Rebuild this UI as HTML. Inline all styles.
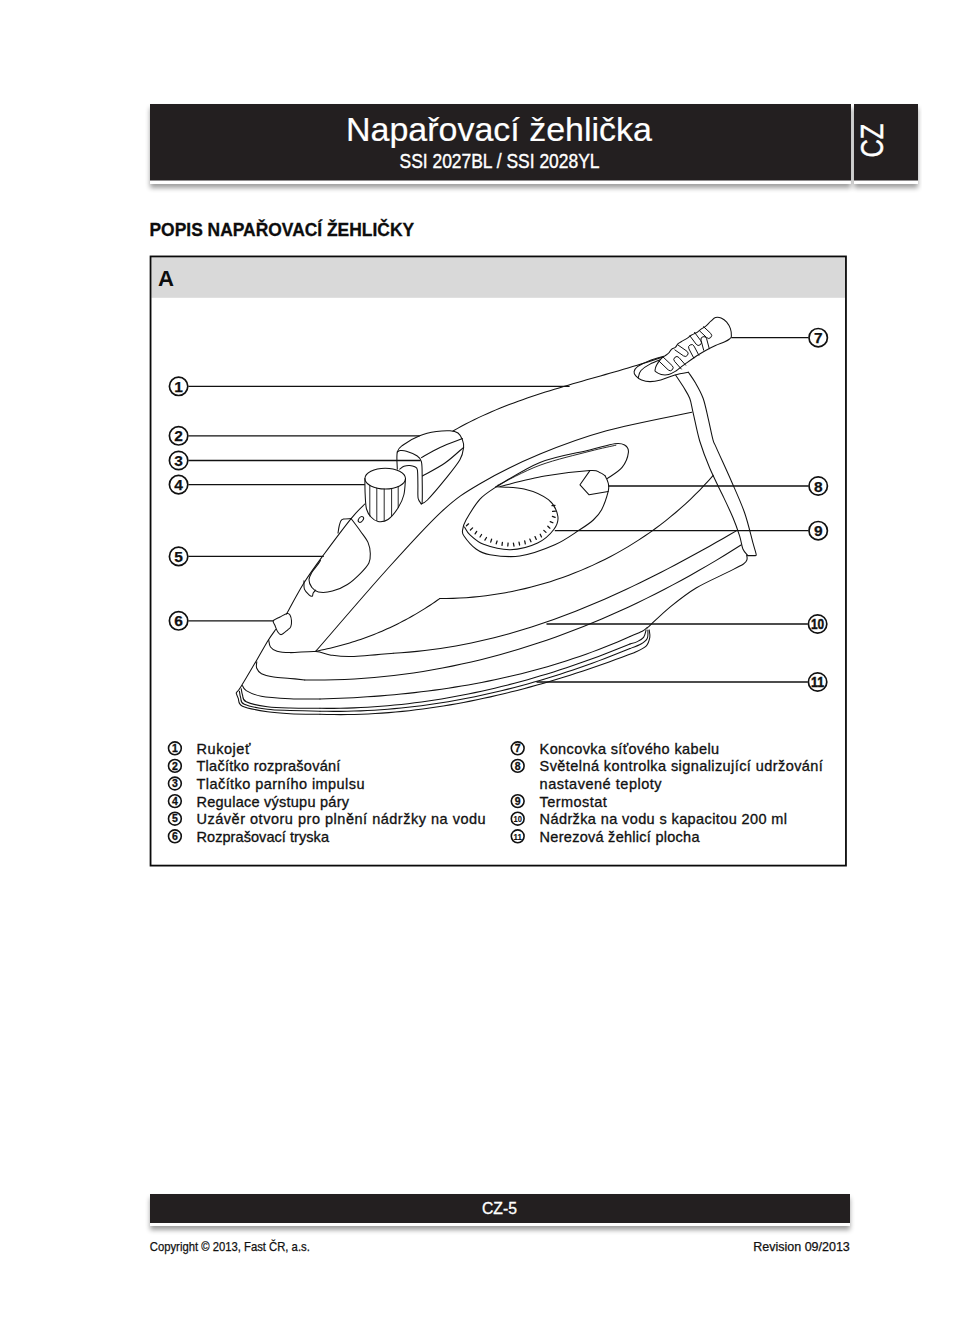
<!DOCTYPE html>
<html><head><meta charset="utf-8"><title>Napařovací žehlička</title>
<style>html,body{margin:0;padding:0;background:#fff;}body{width:962px;height:1328px;position:relative;overflow:hidden;font-family:"Liberation Sans",sans-serif;}</style>
</head><body>
<svg width="962" height="1328" viewBox="0 0 962 1328" style="position:absolute;left:0;top:0;font-family:'Liberation Sans',sans-serif"><defs><filter id="sh" x="-5%" y="-50%" width="110%" height="200%"><feGaussianBlur in="SourceAlpha" stdDeviation="2.7"/><feOffset dx="0" dy="4" result="b"/><feComponentTransfer><feFuncA type="linear" slope="0.38"/></feComponentTransfer><feMerge><feMergeNode/><feMergeNode in="SourceGraphic"/></feMerge></filter></defs>
<rect x="150" y="104" width="701" height="80" fill="#fff" filter="url(#sh)"/>
<rect x="854" y="104" width="64" height="80" fill="#fff" filter="url(#sh)"/>
<rect x="150" y="104" width="701" height="76.5" fill="#231f20"/>
<rect x="854" y="104" width="64" height="76.5" fill="#231f20"/>
<text id="title" x="346.0" y="141.0" font-size="33.30" font-weight="normal" fill="#fff" textLength="306.0" lengthAdjust="spacingAndGlyphs" stroke="#fff" stroke-width="0.2">Napařovací žehlička</text>
<text id="sub" x="399.5" y="168.0" font-size="19.80" font-weight="normal" fill="#fff" textLength="200.0" lengthAdjust="spacingAndGlyphs" stroke="#fff" stroke-width="0.4">SSI 2027BL / SSI 2028YL</text>
<text id="czt" transform="translate(883.0,157.6) rotate(-90)" x="0" y="0" font-size="31.5" fill="#fff" stroke="#fff" stroke-width="0.4" textLength="34" lengthAdjust="spacingAndGlyphs">CZ</text>
<text id="popis" x="149.5" y="236.0" font-size="18.80" font-weight="bold" fill="#0d0d0d" textLength="264.6" lengthAdjust="spacingAndGlyphs" stroke="#0d0d0d" stroke-width="0.3">POPIS NAPAŘOVACÍ ŽEHLIČKY</text>
<rect x="151.4" y="257.3" width="693.7" height="40.5" fill="#d9d9d9"/>
<rect x="150.55" y="256.45" width="695.4" height="609.15" fill="none" stroke="#0a0a0a" stroke-width="1.8"/>
<text id="A" x="158.0" y="285.6" font-size="21.80" font-weight="bold" fill="#0d0d0d" textLength="16.0" lengthAdjust="spacingAndGlyphs" >A</text>
<circle cx="174.9" cy="748.3" r="6.4" fill="none" stroke="#111" stroke-width="1.6"/>
<text x="174.9" y="752.0" font-size="10.5" font-weight="bold" text-anchor="middle" fill="#111" stroke="#111" stroke-width="0.3">1</text>
<text class="li" x="196.5" y="753.8" font-size="14.5" fill="#111" stroke="#111" stroke-width="0.32" textLength="53.9" lengthAdjust="spacing">Rukojeť</text>
<circle cx="174.9" cy="765.9" r="6.4" fill="none" stroke="#111" stroke-width="1.6"/>
<text x="174.9" y="769.6" font-size="10.5" font-weight="bold" text-anchor="middle" fill="#111" stroke="#111" stroke-width="0.3">2</text>
<text class="li" x="196.5" y="771.4" font-size="14.5" fill="#111" stroke="#111" stroke-width="0.32" textLength="143.9" lengthAdjust="spacing">Tlačítko rozprašování</text>
<circle cx="174.9" cy="783.5" r="6.4" fill="none" stroke="#111" stroke-width="1.6"/>
<text x="174.9" y="787.2" font-size="10.5" font-weight="bold" text-anchor="middle" fill="#111" stroke="#111" stroke-width="0.3">3</text>
<text class="li" x="196.5" y="789.0" font-size="14.5" fill="#111" stroke="#111" stroke-width="0.32" textLength="168.0" lengthAdjust="spacing">Tlačítko parního impulsu</text>
<circle cx="174.9" cy="801.1" r="6.4" fill="none" stroke="#111" stroke-width="1.6"/>
<text x="174.9" y="804.8" font-size="10.5" font-weight="bold" text-anchor="middle" fill="#111" stroke="#111" stroke-width="0.3">4</text>
<text class="li" x="196.5" y="806.6" font-size="14.5" fill="#111" stroke="#111" stroke-width="0.32" textLength="152.5" lengthAdjust="spacing">Regulace výstupu páry</text>
<circle cx="174.9" cy="818.7" r="6.4" fill="none" stroke="#111" stroke-width="1.6"/>
<text x="174.9" y="822.4" font-size="10.5" font-weight="bold" text-anchor="middle" fill="#111" stroke="#111" stroke-width="0.3">5</text>
<text class="li" x="196.5" y="824.2" font-size="14.5" fill="#111" stroke="#111" stroke-width="0.32" textLength="289.2" lengthAdjust="spacing">Uzávěr otvoru pro plnění nádržky na vodu</text>
<circle cx="174.9" cy="836.3" r="6.4" fill="none" stroke="#111" stroke-width="1.6"/>
<text x="174.9" y="840.0" font-size="10.5" font-weight="bold" text-anchor="middle" fill="#111" stroke="#111" stroke-width="0.3">6</text>
<text class="li" x="196.5" y="841.8" font-size="14.5" fill="#111" stroke="#111" stroke-width="0.32" textLength="132.5" lengthAdjust="spacing">Rozprašovací tryska</text>
<circle cx="517.7" cy="748.3" r="6.4" fill="none" stroke="#111" stroke-width="1.6"/>
<text x="517.7" y="752.0" font-size="10.5" font-weight="bold" text-anchor="middle" fill="#111" stroke="#111" stroke-width="0.3">7</text>
<text class="li" x="539.6" y="753.8" font-size="14.5" fill="#111" stroke="#111" stroke-width="0.32" textLength="179.5" lengthAdjust="spacing">Koncovka síťového kabelu</text>
<circle cx="517.7" cy="765.9" r="6.4" fill="none" stroke="#111" stroke-width="1.6"/>
<text x="517.7" y="769.6" font-size="10.5" font-weight="bold" text-anchor="middle" fill="#111" stroke="#111" stroke-width="0.3">8</text>
<text class="li" x="539.6" y="771.4" font-size="14.5" fill="#111" stroke="#111" stroke-width="0.32" textLength="283.2" lengthAdjust="spacing">Světelná kontrolka signalizující udržování</text>
<text class="li" x="539.6" y="789.0" font-size="14.5" fill="#111" stroke="#111" stroke-width="0.32" textLength="122.0" lengthAdjust="spacing">nastavené teploty</text>
<circle cx="517.7" cy="801.1" r="6.4" fill="none" stroke="#111" stroke-width="1.6"/>
<text x="517.7" y="804.8" font-size="10.5" font-weight="bold" text-anchor="middle" fill="#111" stroke="#111" stroke-width="0.3">9</text>
<text class="li" x="539.6" y="806.6" font-size="14.5" fill="#111" stroke="#111" stroke-width="0.32" textLength="67.1" lengthAdjust="spacing">Termostat</text>
<circle cx="517.7" cy="818.7" r="6.4" fill="none" stroke="#111" stroke-width="1.6"/>
<text x="517.7" y="822.2" font-size="9.5" font-weight="bold" text-anchor="middle" fill="#111" stroke="#111" stroke-width="0.15" textLength="8.4" lengthAdjust="spacingAndGlyphs">10</text>
<text class="li" x="539.6" y="824.2" font-size="14.5" fill="#111" stroke="#111" stroke-width="0.32" textLength="247.4" lengthAdjust="spacing">Nádržka na vodu s kapacitou 200 ml</text>
<circle cx="517.7" cy="836.3" r="6.4" fill="none" stroke="#111" stroke-width="1.6"/>
<text x="517.7" y="839.8" font-size="9.5" font-weight="bold" text-anchor="middle" fill="#111" stroke="#111" stroke-width="0.15" textLength="8.4" lengthAdjust="spacingAndGlyphs">11</text>
<text class="li" x="539.6" y="841.8" font-size="14.5" fill="#111" stroke="#111" stroke-width="0.32" textLength="159.9" lengthAdjust="spacing">Nerezová žehlicí plocha</text>
<rect x="150" y="1194" width="700" height="32" fill="#fff" filter="url(#sh)"/>
<rect x="150" y="1194" width="700" height="29" fill="#231f20"/>
<text id="cz5" x="482.0" y="1214.0" font-size="17.00" font-weight="normal" fill="#fff" textLength="35.0" lengthAdjust="spacingAndGlyphs" stroke="#fff" stroke-width="0.35">CZ-5</text>
<text id="copy" x="149.8" y="1250.9" font-size="12.20" font-weight="normal" fill="#111" textLength="160.0" lengthAdjust="spacingAndGlyphs" stroke="#111" stroke-width="0.25">Copyright © 2013, Fast ČR, a.s.</text>
<text id="rev" x="753.3" y="1250.7" font-size="12.20" font-weight="normal" fill="#111" textLength="96.5" lengthAdjust="spacingAndGlyphs" stroke="#111" stroke-width="0.25">Revision 09/2013</text>
<path d="M453.00,431.00 L457.19,428.61 L461.40,426.29 L465.64,424.04 L469.90,421.85 L474.19,419.71 L478.50,417.64 L482.83,415.63 L487.19,413.66 L491.56,411.75 L495.95,409.89 L500.37,408.08 L504.80,406.31 L509.24,404.59 L513.71,402.90 L518.19,401.26 L522.68,399.65 L527.19,398.08 L531.71,396.54 L536.24,395.04 L540.78,393.56 L545.33,392.10 L549.90,390.67 L554.47,389.27 L559.05,387.88 L563.63,386.51 L568.22,385.15 L572.82,383.81 L577.42,382.48 L582.02,381.16 L586.63,379.85 L591.24,378.54 L595.85,377.23 L600.45,375.93 L605.06,374.62 L609.67,373.31 L614.27,371.99 L618.87,370.67 L623.47,369.33 L628.06,367.98 L632.64,366.62 L637.22,365.24 L641.79,363.84 L646.35,362.43 L650.91,360.98 L655.45,359.52 L659.98,358.02 L664.50,356.50" fill="none" stroke="#111" stroke-width="1.05" stroke-linejoin="round" stroke-linecap="round"/>
<path d="M397.3,469.1 C397.3,466.2 396.3,456.0 397.3,452.0 C398.3,448.0 399.4,447.7 403.1,445.0 C406.8,442.3 414.1,438.0 419.7,435.8 C425.2,433.6 431.3,432.4 436.4,431.6 C441.4,430.8 446.4,430.6 450.0,430.8 C453.6,431.0 455.9,431.5 458.0,433.0 C460.1,434.5 461.5,437.4 462.4,439.8 C463.3,442.2 464.0,444.0 463.6,447.3 C463.2,450.6 463.0,454.4 459.9,459.8 C456.8,465.2 450.3,473.0 444.9,479.7 C439.5,486.4 431.3,496.0 427.4,500.0 C423.4,504.0 422.2,503.1 421.2,503.7" fill="none" stroke="#111" stroke-width="1.05" stroke-linejoin="round" stroke-linecap="round"/>
<path d="M397.3,452.0 C397.8,451.8 399.0,450.7 400.5,450.6 C402.0,450.5 403.8,450.4 406.4,451.2 C409.0,452.0 413.9,453.8 416.4,455.5 C418.9,457.2 420.4,457.5 421.4,461.6 C422.4,465.7 422.1,473.4 422.2,480.0 C422.3,486.6 422.4,497.6 422.2,501.5 C422.0,505.4 421.4,503.3 421.2,503.7" fill="none" stroke="#111" stroke-width="1.05" stroke-linejoin="round" stroke-linecap="round"/>
<path d="M421.4,457.6 C424.5,455.9 433.2,450.7 440.0,447.5 C446.8,444.3 458.7,440.1 462.4,438.6" fill="none" stroke="#111" stroke-width="1.05" stroke-linejoin="round" stroke-linecap="round"/>
<path d="M422.4,476.0 C426.2,473.8 438.1,467.8 445.0,463.0 C451.9,458.2 460.5,449.9 463.6,447.3" fill="none" stroke="#111" stroke-width="1.05" stroke-linejoin="round" stroke-linecap="round"/>
<path d="M399.8,469.1 C400.5,468.6 402.4,466.9 404.0,466.3 C405.6,465.7 407.9,465.4 409.7,465.5 C411.5,465.6 413.5,466.1 414.8,466.8 C416.1,467.6 416.9,467.0 417.4,470.0 C417.9,473.0 417.8,480.3 417.9,485.0 C418.0,489.7 417.6,495.1 418.1,498.2 C418.7,501.3 420.7,502.8 421.2,503.7" fill="none" stroke="#111" stroke-width="1.05" stroke-linejoin="round" stroke-linecap="round"/>
<path d="M364.9,478.6 A20.3,10.4 0 1 1 405.5,478.6 A20.3,10.4 0 1 1 364.9,478.6 Z" fill="none" stroke="#111" stroke-width="1.05" stroke-linejoin="round" stroke-linecap="round"/>
<path d="M364.9,478.6 C364.9,481.3 364.9,489.9 365.2,495.0 C365.5,500.1 365.5,505.3 366.5,509.0 C367.5,512.7 369.1,514.9 371.0,517.0 C372.9,519.1 375.2,521.1 378.0,521.5 C380.8,521.9 384.7,521.8 388.0,519.5 C391.3,517.2 395.4,512.1 398.0,508.0 C400.6,503.9 402.6,499.9 403.8,495.0 C405.1,490.1 405.2,481.3 405.5,478.6" fill="none" stroke="#111" stroke-width="1.05" stroke-linejoin="round" stroke-linecap="round"/>
<path d="M369.8,485.4 L369.8,516.0" fill="none" stroke="#111" stroke-width="0.90" stroke-linejoin="round" stroke-linecap="round"/>
<path d="M376.8,488.1 L376.8,520.6" fill="none" stroke="#111" stroke-width="0.90" stroke-linejoin="round" stroke-linecap="round"/>
<path d="M384.2,489.0 L384.2,520.4" fill="none" stroke="#111" stroke-width="0.90" stroke-linejoin="round" stroke-linecap="round"/>
<path d="M391.6,488.5 L391.6,516.2" fill="none" stroke="#111" stroke-width="0.90" stroke-linejoin="round" stroke-linecap="round"/>
<path d="M398.2,486.6 L398.2,507.5" fill="none" stroke="#111" stroke-width="0.90" stroke-linejoin="round" stroke-linecap="round"/>
<path d="M315.8,651.2 C327.6,637.7 365.5,593.3 386.5,570.0 C407.5,546.7 426.0,526.0 441.6,511.6 C457.2,497.2 463.6,493.3 480.0,483.7 C496.4,474.1 518.9,462.9 540.0,454.1 C561.1,445.3 581.2,437.8 606.5,430.8 C631.8,423.8 677.6,415.3 691.8,412.2" fill="none" stroke="#111" stroke-width="1.05" stroke-linejoin="round" stroke-linecap="round"/>
<path d="M364.8,504.0 C362.5,506.4 358.1,510.0 351.1,518.6 C344.2,527.2 331.0,544.8 323.1,555.5 C315.2,566.2 310.0,573.2 303.9,583.0 C297.8,592.8 289.4,608.8 286.5,614.0" fill="none" stroke="#111" stroke-width="1.05" stroke-linejoin="round" stroke-linecap="round"/>
<path d="M275.7,629.5 C274.5,631.2 271.4,635.1 268.4,640.0 C265.3,644.9 261.9,651.2 257.4,658.9 C252.9,666.6 244.7,680.6 241.2,686.2 C237.7,691.8 237.3,691.5 236.5,692.5" fill="none" stroke="#111" stroke-width="1.05" stroke-linejoin="round" stroke-linecap="round"/>
<path d="M351.1,518.6 C352.7,520.7 357.7,527.2 360.5,531.2 C363.3,535.2 366.4,538.7 368.0,542.4 C369.6,546.1 370.2,550.2 370.3,553.6 C370.4,557.0 370.5,559.7 368.9,563.0 C367.3,566.3 364.1,569.7 360.5,573.3 C356.9,576.9 352.1,581.5 347.4,584.5 C342.7,587.5 337.2,589.9 332.4,591.1 C327.6,592.4 321.8,592.6 318.4,592.0 C315.0,591.4 313.4,589.3 311.8,587.3 C310.2,585.3 309.0,582.3 309.0,579.8 C309.0,577.3 310.4,574.9 311.8,572.4 C313.2,569.9 316.1,566.9 317.5,564.9 C318.9,562.9 320.0,561.2 320.5,560.5" fill="none" stroke="#111" stroke-width="1.05" stroke-linejoin="round" stroke-linecap="round"/>
<path d="M338.0,533.1 C338.2,531.9 338.7,528.0 339.2,526.0 C339.7,524.0 340.1,522.1 340.8,520.9 C341.5,519.7 341.9,519.4 343.6,519.0 C345.3,518.6 349.9,518.7 351.1,518.6" fill="none" stroke="#111" stroke-width="1.05" stroke-linejoin="round" stroke-linecap="round"/>
<path d="M304.0,580.8 C304.1,582.2 303.6,586.9 304.4,589.2 C305.2,591.5 307.7,593.6 309.0,594.8 C310.3,596.0 311.6,596.5 312.3,596.2 C313.0,595.9 312.6,593.9 313.2,592.9 C313.8,591.9 315.2,590.6 315.6,590.1" fill="none" stroke="#111" stroke-width="1.05" stroke-linejoin="round" stroke-linecap="round"/>
<ellipse cx="360.9" cy="519.4" rx="2.1" ry="3.3" transform="rotate(40 360.9 519.4)" fill="none" stroke="#111" stroke-width="1.0"/>
<path d="M273.3,620.8 C274.1,619.4 277.7,618.2 280.0,617.0 C282.3,615.8 285.4,613.8 287.1,613.5 C288.8,613.2 289.3,613.8 290.0,615.0 C290.7,616.2 291.4,618.9 291.5,620.8 C291.6,622.7 291.4,625.1 290.8,626.6 C290.2,628.1 289.4,628.5 287.8,629.8 C286.2,631.1 283.0,634.3 281.3,634.6 C279.6,634.9 278.8,633.2 277.7,631.7 C276.6,630.2 275.7,627.3 275.0,625.5 C274.3,623.7 272.5,622.2 273.3,620.8Z" fill="none" stroke="#111" stroke-width="1.05" stroke-linejoin="round" stroke-linecap="round"/>
<path d="M315.80,651.20 L318.68,650.65 L321.54,650.07 L324.40,649.47 L327.24,648.85 L330.08,648.20 L332.90,647.53 L335.72,646.83 L338.52,646.10 L341.32,645.35 L344.10,644.58 L346.87,643.78 L349.63,642.96 L352.38,642.11 L355.12,641.24 L357.85,640.34 L360.57,639.42 L363.28,638.48 L365.98,637.51 L368.67,636.51 L371.35,635.49 L374.02,634.44 L376.67,633.37 L379.32,632.28 L381.96,631.16 L384.58,630.02 L387.20,628.85 L389.80,627.66 L392.40,626.44 L394.98,625.19 L397.55,623.93 L400.12,622.63 L402.67,621.32 L405.21,619.98 L407.74,618.61 L410.26,617.22 L412.77,615.80 L415.27,614.36 L417.76,612.90 L420.24,611.41 L422.71,609.89 L425.17,608.35 L427.62,606.79 L430.06,605.20 L432.48,603.59 L434.90,601.95 L437.30,600.29 L439.70,598.60" fill="none" stroke="#111" stroke-width="1.05" stroke-linejoin="round" stroke-linecap="round"/>
<path d="M439.70,598.60 L446.35,598.55 L453.00,598.37 L459.63,598.08 L466.25,597.66 L472.85,597.13 L479.44,596.47 L486.00,595.70 L492.55,594.81 L499.07,593.81 L505.57,592.68 L512.04,591.45 L518.48,590.09 L524.90,588.63 L531.28,587.05 L537.63,585.35 L543.95,583.54 L550.22,581.63 L556.47,579.60 L562.67,577.46 L568.83,575.21 L574.94,572.85 L581.01,570.38 L587.04,567.81 L593.01,565.13 L598.94,562.34 L604.82,559.45 L610.64,556.45 L616.40,553.34 L622.11,550.14 L627.76,546.83 L633.35,543.41 L638.88,539.90 L644.35,536.28 L649.74,532.57 L655.08,528.75 L660.34,524.83 L665.53,520.82 L670.65,516.71 L675.70,512.50 L680.67,508.19 L685.56,503.79 L690.38,499.29 L695.11,494.70 L699.76,490.01 L704.33,485.23 L708.81,480.36 L713.20,475.40" fill="none" stroke="#111" stroke-width="1.05" stroke-linejoin="round" stroke-linecap="round"/>
<path d="M268.7,640.0 C269.0,641.2 269.1,645.1 270.5,647.0 C271.9,648.9 273.8,650.4 277.0,651.3 C280.2,652.2 283.5,652.5 290.0,652.6 C296.5,652.7 309.1,651.2 315.8,651.6 C322.5,652.0 324.0,654.2 330.0,655.0 C336.0,655.8 341.1,656.8 351.6,656.5 C362.1,656.2 386.3,653.8 393.2,653.2" fill="none" stroke="#111" stroke-width="1.05" stroke-linejoin="round" stroke-linecap="round"/>
<path d="M393.20,653.20 L401.15,652.72 L409.06,652.12 L416.94,651.39 L424.79,650.53 L432.61,649.56 L440.40,648.47 L448.16,647.26 L455.88,645.93 L463.58,644.50 L471.25,642.96 L478.89,641.31 L486.50,639.55 L494.08,637.70 L501.63,635.74 L509.15,633.69 L516.65,631.54 L524.11,629.30 L531.55,626.96 L538.97,624.54 L546.35,622.04 L553.71,619.45 L561.04,616.78 L568.35,614.03 L575.63,611.21 L582.89,608.31 L590.12,605.34 L597.33,602.30 L604.51,599.19 L611.66,596.02 L618.80,592.79 L625.91,589.50 L632.99,586.15 L640.06,582.74 L647.10,579.29 L654.12,575.78 L661.11,572.22 L668.09,568.62 L675.04,564.97 L681.97,561.29 L688.89,557.56 L695.78,553.80 L702.65,550.00 L709.50,546.18 L716.33,542.32 L723.14,538.44 L729.93,534.53 L736.70,530.60" fill="none" stroke="#111" stroke-width="1.05" stroke-linejoin="round" stroke-linecap="round"/>
<path d="M256.8,661.8 C256.8,662.8 255.8,666.0 256.6,668.0 C257.4,670.0 258.6,672.2 261.5,673.7 C264.4,675.2 268.9,676.1 273.7,676.9 C278.4,677.7 284.8,677.9 290.0,678.4 C295.2,678.9 302.3,679.6 304.8,679.9" fill="none" stroke="#111" stroke-width="1.05" stroke-linejoin="round" stroke-linecap="round"/>
<path d="M304.80,679.90 L314.78,680.01 L324.74,679.98 L334.68,679.78 L344.60,679.44 L354.50,678.95 L364.37,678.30 L374.22,677.52 L384.04,676.58 L393.84,675.51 L403.61,674.29 L413.36,672.93 L423.08,671.43 L432.77,669.80 L442.43,668.03 L452.06,666.13 L461.67,664.09 L471.24,661.93 L480.78,659.64 L490.29,657.22 L499.77,654.68 L509.21,652.01 L518.62,649.23 L528.00,646.32 L537.34,643.29 L546.65,640.15 L555.92,636.90 L565.15,633.53 L574.34,630.05 L583.50,626.46 L592.61,622.76 L601.69,618.95 L610.73,615.04 L619.72,611.03 L628.68,606.92 L637.59,602.71 L646.46,598.39 L655.29,593.99 L664.07,589.49 L672.80,584.89 L681.49,580.21 L690.14,575.43 L698.74,570.57 L707.29,565.62 L715.79,560.59 L724.24,555.47 L732.64,550.27 L741.00,545.00" fill="none" stroke="#111" stroke-width="1.05" stroke-linejoin="round" stroke-linecap="round"/>
<path d="M647.3,628.0 C647.8,627.5 646.6,628.4 650.6,624.8 C654.6,621.1 663.6,612.2 671.2,606.1 C678.8,600.0 686.8,593.6 696.1,588.0 C705.5,582.4 719.4,576.4 727.3,572.4 C735.2,568.4 740.2,566.1 743.5,564.0 C746.8,561.9 746.5,561.0 747.0,559.5 C747.5,558.0 746.7,555.7 746.6,554.9" fill="none" stroke="#111" stroke-width="1.05" stroke-linejoin="round" stroke-linecap="round"/>
<path d="M242.5,685.6 C243.1,686.4 243.1,688.8 246.2,690.6 C249.3,692.4 253.9,694.9 261.2,696.2 C268.5,697.6 280.2,698.2 290.0,698.7 C299.8,699.2 315.0,699.0 320.0,699.0" fill="none" stroke="#111" stroke-width="1.05" stroke-linejoin="round" stroke-linecap="round"/>
<path d="M320.00,699.00 L326.75,698.81 L333.50,698.58 L340.25,698.32 L347.00,698.01 L353.76,697.66 L360.52,697.28 L367.28,696.85 L374.03,696.38 L380.79,695.87 L387.55,695.31 L394.30,694.71 L401.05,694.06 L407.79,693.36 L414.54,692.62 L421.27,691.83 L428.00,691.00 L434.73,690.11 L441.44,689.17 L448.15,688.18 L454.85,687.14 L461.55,686.05 L468.23,684.90 L474.90,683.70 L481.56,682.44 L488.20,681.13 L494.84,679.76 L501.46,678.33 L508.07,676.85 L514.66,675.30 L521.24,673.70 L527.80,672.03 L534.34,670.31 L540.87,668.52 L547.37,666.67 L553.86,664.75 L560.33,662.77 L566.78,660.73 L573.21,658.61 L579.61,656.44 L586.00,654.19 L592.36,651.87 L598.70,649.49 L605.01,647.04 L611.30,644.51 L617.56,641.91 L623.79,639.24 L630.00,636.50" fill="none" stroke="#111" stroke-width="1.05" stroke-linejoin="round" stroke-linecap="round"/>
<path d="M630.0,636.5 C632.0,635.6 639.4,632.7 642.3,631.2 C645.2,629.7 646.5,628.0 647.3,627.4" fill="none" stroke="#111" stroke-width="1.05" stroke-linejoin="round" stroke-linecap="round"/>
<path d="M241.2,688.7 C241.4,689.8 241.7,692.8 242.5,695.0 C243.3,697.2 242.0,699.8 246.2,701.8 C250.3,703.8 260.1,705.8 267.4,706.8 C274.7,707.8 281.2,707.9 290.0,708.1 C298.8,708.4 315.0,708.3 320.0,708.3" fill="none" stroke="#111" stroke-width="1.05" stroke-linejoin="round" stroke-linecap="round"/>
<path d="M320.00,708.30 L326.80,708.36 L333.59,708.35 L340.38,708.26 L347.17,708.11 L353.95,707.88 L360.73,707.59 L367.50,707.23 L374.27,706.80 L381.03,706.30 L387.79,705.73 L394.54,705.10 L401.28,704.41 L408.02,703.65 L414.74,702.82 L421.46,701.93 L428.17,700.98 L434.88,699.97 L441.57,698.90 L448.25,697.76 L454.93,696.57 L461.59,695.31 L468.24,694.00 L474.89,692.63 L481.52,691.20 L488.14,689.71 L494.74,688.17 L501.34,686.57 L507.92,684.92 L514.48,683.22 L521.04,681.46 L527.58,679.64 L534.10,677.78 L540.61,675.86 L547.11,673.90 L553.59,671.88 L560.05,669.81 L566.50,667.70 L572.93,665.53 L579.35,663.32 L585.74,661.06 L592.12,658.76 L598.48,656.41 L604.82,654.01 L611.15,651.58 L617.45,649.09 L623.74,646.57 L630.00,644.00" fill="none" stroke="#111" stroke-width="1.05" stroke-linejoin="round" stroke-linecap="round"/>
<path d="M630.0,644.0 C631.2,643.6 635.0,642.7 637.3,641.6 C639.6,640.5 642.1,639.4 643.6,637.4 C645.1,635.4 645.7,631.1 646.1,629.9" fill="none" stroke="#111" stroke-width="1.05" stroke-linejoin="round" stroke-linecap="round"/>
<path d="M239.4,691.2 C239.6,692.2 239.8,695.2 240.6,697.4 C241.4,699.6 239.8,702.3 244.3,704.3 C248.8,706.3 259.8,708.3 267.4,709.3 C275.0,710.3 281.2,710.2 290.0,710.5 C298.8,710.8 315.0,711.1 320.0,711.2" fill="none" stroke="#111" stroke-width="1.05" stroke-linejoin="round" stroke-linecap="round"/>
<path d="M320.00,711.20 L326.78,711.33 L333.56,711.38 L340.34,711.35 L347.11,711.26 L353.89,711.10 L360.66,710.86 L367.42,710.55 L374.19,710.18 L380.94,709.74 L387.70,709.22 L394.45,708.64 L401.19,708.00 L407.93,707.29 L414.66,706.51 L421.38,705.67 L428.10,704.76 L434.80,703.79 L441.50,702.76 L448.19,701.66 L454.87,700.51 L461.54,699.29 L468.20,698.01 L474.85,696.68 L481.49,695.28 L488.12,693.83 L494.73,692.32 L501.33,690.75 L507.92,689.13 L514.50,687.45 L521.06,685.72 L527.61,683.93 L534.14,682.09 L540.65,680.19 L547.15,678.25 L553.64,676.25 L560.10,674.20 L566.55,672.10 L572.99,669.95 L579.40,667.76 L585.80,665.51 L592.17,663.22 L598.53,660.88 L604.86,658.49 L611.18,656.06 L617.47,653.58 L623.75,651.06 L630.00,648.50" fill="none" stroke="#111" stroke-width="1.05" stroke-linejoin="round" stroke-linecap="round"/>
<path d="M630.0,648.5 C631.8,647.8 638.1,645.7 641.0,644.0 C643.9,642.3 646.1,640.8 647.2,638.5 C648.4,636.2 647.8,631.4 647.9,630.0" fill="none" stroke="#111" stroke-width="1.05" stroke-linejoin="round" stroke-linecap="round"/>
<path d="M236.2,693.1 C236.5,693.9 237.0,695.9 238.1,698.1 C239.2,700.3 237.6,703.9 242.5,706.2 C247.4,708.5 259.5,710.5 267.4,711.8 C275.3,713.0 281.2,713.3 290.0,713.7 C298.8,714.1 315.0,714.2 320.0,714.3" fill="none" stroke="#111" stroke-width="1.05" stroke-linejoin="round" stroke-linecap="round"/>
<path d="M320.00,714.30 L326.90,714.49 L333.79,714.60 L340.68,714.62 L347.57,714.57 L354.45,714.43 L361.32,714.22 L368.19,713.93 L375.05,713.57 L381.90,713.13 L388.75,712.62 L395.58,712.03 L402.42,711.37 L409.24,710.65 L416.06,709.85 L422.86,708.99 L429.66,708.06 L436.45,707.06 L443.24,706.00 L450.01,704.88 L456.77,703.69 L463.52,702.45 L470.27,701.14 L477.00,699.78 L483.72,698.35 L490.43,696.87 L497.13,695.34 L503.82,693.75 L510.50,692.11 L517.16,690.42 L523.81,688.67 L530.45,686.88 L537.08,685.04 L543.70,683.15 L550.30,681.22 L556.89,679.24 L563.46,677.21 L570.02,675.15 L576.57,673.04 L583.10,670.89 L589.62,668.71 L596.12,666.48 L602.60,664.22 L609.08,661.92 L615.53,659.59 L621.97,657.23 L628.39,654.83 L634.80,652.40" fill="none" stroke="#111" stroke-width="1.05" stroke-linejoin="round" stroke-linecap="round"/>
<path d="M634.8,652.4 C636.7,651.4 643.6,648.6 646.1,646.1 C648.6,643.6 649.3,640.1 649.8,637.4 C650.3,634.7 649.3,631.1 649.2,629.9" fill="none" stroke="#111" stroke-width="1.05" stroke-linejoin="round" stroke-linecap="round"/>
<path d="M675.7,375.2 C677.0,377.1 680.9,382.8 683.2,386.6 C685.5,390.5 688.0,393.9 689.7,398.3 C691.4,402.7 691.5,406.0 693.2,413.1 C694.9,420.2 697.0,431.9 699.7,441.0 C702.5,450.1 705.8,458.8 709.7,468.0 C713.6,477.2 719.1,487.8 723.0,496.0 C726.9,504.2 730.1,510.9 732.9,517.5 C735.7,524.1 737.9,530.5 739.6,535.8 C741.3,541.0 741.5,545.7 742.9,549.0 C744.3,552.3 747.0,554.5 747.8,555.6" fill="none" stroke="#111" stroke-width="1.05" stroke-linejoin="round" stroke-linecap="round"/>
<path d="M688.4,372.2 C689.6,374.1 693.2,379.0 695.7,383.3 C698.2,387.6 701.0,392.4 703.1,398.2 C705.2,404.0 706.5,411.2 708.1,418.1 C709.8,425.1 711.6,434.9 713.0,439.9 C714.4,444.9 713.4,441.0 716.4,447.9 C719.4,454.8 726.6,470.2 731.3,481.0 C736.0,491.8 740.9,502.3 744.5,512.5 C748.1,522.7 750.9,535.5 752.8,542.4 C754.7,549.3 755.7,551.8 756.1,554.0 C756.5,556.2 755.4,555.3 755.3,555.6" fill="none" stroke="#111" stroke-width="1.05" stroke-linejoin="round" stroke-linecap="round"/>
<path d="M747.8,555.6 L755.3,555.6" fill="none" stroke="#111" stroke-width="1.05" stroke-linejoin="round" stroke-linecap="round"/>
<path d="M664.1,356.2 C661.8,356.9 654.4,358.7 650.0,360.4 C645.6,362.1 640.1,364.7 637.5,366.6 C634.9,368.5 634.4,370.1 634.1,371.6 C633.8,373.1 634.5,374.4 635.8,375.8 C637.0,377.2 639.2,378.9 641.6,379.9 C644.0,380.9 646.8,381.6 650.0,381.6 C653.2,381.6 656.6,381.0 660.8,379.9 C664.9,378.8 670.3,376.2 674.9,374.9 C679.5,373.6 686.1,372.6 688.4,372.2" fill="none" stroke="#111" stroke-width="1.05" stroke-linejoin="round" stroke-linecap="round"/>
<path d="M662.4,358.9 C660.3,359.8 653.6,362.2 650.0,364.1 C646.4,366.0 643.0,368.3 641.0,370.5 C639.0,372.7 638.8,376.3 638.3,377.5" fill="none" stroke="#111" stroke-width="1.05" stroke-linejoin="round" stroke-linecap="round"/>
<path d="M496.1,486.9 C503.4,482.8 524.4,468.6 540.0,462.4 C555.6,456.2 577.2,453.0 589.7,449.9 C602.2,446.8 608.9,444.5 614.7,443.7 C620.5,442.9 622.3,443.6 624.6,445.0 C626.9,446.4 628.8,448.7 628.4,452.4 C628.0,456.1 625.6,463.0 622.1,467.4 C618.6,471.8 609.7,476.7 607.2,478.6" fill="none" stroke="#111" stroke-width="1.05" stroke-linejoin="round" stroke-linecap="round"/>
<path d="M497.0,485.6 C504.2,482.2 524.5,470.9 540.0,465.2 C555.5,459.5 577.4,454.5 590.0,451.2 C602.6,447.9 611.6,446.2 615.9,445.2" fill="none" stroke="#111" stroke-width="0.90" stroke-linejoin="round" stroke-linecap="round"/>
<path d="M604.9,475.6 C605.5,476.8 607.7,480.4 608.2,483.0 C608.8,485.6 609.3,486.9 608.2,491.4 C607.1,495.8 604.1,504.9 601.6,509.7 C599.1,514.5 596.9,516.6 593.3,520.0 C589.6,523.4 586.1,525.7 579.7,529.8 C573.3,533.9 564.8,540.4 554.8,544.8 C544.8,549.2 530.6,554.4 519.8,556.0 C509.0,557.6 497.2,555.9 489.9,554.7 C482.6,553.5 480.3,552.1 476.0,549.0 C471.7,545.9 466.2,539.2 464.0,536.0 C461.8,532.8 462.3,532.7 462.6,530.0 C462.9,527.3 463.1,525.1 466.0,520.0 C468.9,514.9 475.0,504.6 480.0,499.1 C485.0,493.6 493.4,488.9 496.1,486.9" fill="none" stroke="#111" stroke-width="1.05" stroke-linejoin="round" stroke-linecap="round"/>
<path d="M500.0,486.4 C507.5,484.7 529.8,478.7 544.8,476.1 C559.8,473.5 580.8,471.2 589.9,470.6 C599.0,470.0 597.2,471.7 599.7,472.5 C602.2,473.3 604.0,475.1 604.9,475.6" fill="none" stroke="#111" stroke-width="1.05" stroke-linejoin="round" stroke-linecap="round"/>
<path d="M589.9,470.6 L580.0,484.8 L589.1,494.8 L608.2,491.4" fill="none" stroke="#111" stroke-width="1.05" stroke-linejoin="round" stroke-linecap="round"/>
<path d="M495.7,486.8 C500.4,487.1 515.3,486.8 524.1,488.9 C532.9,491.0 542.8,495.2 548.4,499.7 C554.0,504.2 556.9,511.0 557.8,516.0 C558.7,521.0 557.2,525.0 553.8,529.5 C550.4,534.0 544.8,539.6 537.6,543.0 C530.4,546.4 519.5,549.5 510.5,549.7 C501.5,549.9 490.2,546.8 483.5,544.3 C476.8,541.8 473.2,537.8 470.0,534.9 C466.8,532.0 465.4,528.3 464.5,527.0" fill="none" stroke="#111" stroke-width="1.05" stroke-linejoin="round" stroke-linecap="round"/>
<path d="M466.4,525.8 L468.6,523.8" fill="none" stroke="#111" stroke-width="1.25" stroke-linejoin="round" stroke-linecap="round"/>
<path d="M470.4,530.0 L472.6,527.9" fill="none" stroke="#111" stroke-width="1.25" stroke-linejoin="round" stroke-linecap="round"/>
<path d="M475.1,533.9 L476.7,531.4" fill="none" stroke="#111" stroke-width="1.25" stroke-linejoin="round" stroke-linecap="round"/>
<path d="M480.0,537.0 L481.6,534.5" fill="none" stroke="#111" stroke-width="1.25" stroke-linejoin="round" stroke-linecap="round"/>
<path d="M484.9,540.1 L486.5,537.5" fill="none" stroke="#111" stroke-width="1.25" stroke-linejoin="round" stroke-linecap="round"/>
<path d="M490.7,542.1 L491.6,539.2" fill="none" stroke="#111" stroke-width="1.25" stroke-linejoin="round" stroke-linecap="round"/>
<path d="M496.2,543.8 L497.1,541.0" fill="none" stroke="#111" stroke-width="1.25" stroke-linejoin="round" stroke-linecap="round"/>
<path d="M502.0,545.3 L502.4,542.3" fill="none" stroke="#111" stroke-width="1.25" stroke-linejoin="round" stroke-linecap="round"/>
<path d="M507.8,546.0 L508.1,543.0" fill="none" stroke="#111" stroke-width="1.25" stroke-linejoin="round" stroke-linecap="round"/>
<path d="M514.0,546.1 L513.4,543.2" fill="none" stroke="#111" stroke-width="1.25" stroke-linejoin="round" stroke-linecap="round"/>
<path d="M519.6,545.0 L519.0,542.1" fill="none" stroke="#111" stroke-width="1.25" stroke-linejoin="round" stroke-linecap="round"/>
<path d="M525.3,543.9 L524.7,540.9" fill="none" stroke="#111" stroke-width="1.25" stroke-linejoin="round" stroke-linecap="round"/>
<path d="M531.0,541.8 L529.8,539.1" fill="none" stroke="#111" stroke-width="1.25" stroke-linejoin="round" stroke-linecap="round"/>
<path d="M536.3,539.4 L535.0,536.6" fill="none" stroke="#111" stroke-width="1.25" stroke-linejoin="round" stroke-linecap="round"/>
<path d="M541.5,536.9 L540.2,534.2" fill="none" stroke="#111" stroke-width="1.25" stroke-linejoin="round" stroke-linecap="round"/>
<path d="M546.0,532.4 L543.8,530.4" fill="none" stroke="#111" stroke-width="1.25" stroke-linejoin="round" stroke-linecap="round"/>
<path d="M549.9,528.2 L547.8,526.2" fill="none" stroke="#111" stroke-width="1.25" stroke-linejoin="round" stroke-linecap="round"/>
<path d="M552.9,522.8 L550.2,521.6" fill="none" stroke="#111" stroke-width="1.25" stroke-linejoin="round" stroke-linecap="round"/>
<path d="M555.1,517.4 L552.4,516.3" fill="none" stroke="#111" stroke-width="1.25" stroke-linejoin="round" stroke-linecap="round"/>
<path d="M555.6,511.1 L552.6,511.4" fill="none" stroke="#111" stroke-width="1.25" stroke-linejoin="round" stroke-linecap="round"/>
<path d="M555.0,505.3 L552.0,505.7" fill="none" stroke="#111" stroke-width="1.25" stroke-linejoin="round" stroke-linecap="round"/>
<path d="M655.1,369.9 C655.2,368.8 655.5,367.1 656.5,365.2 C657.5,363.3 659.8,360.2 661.2,358.6 C662.6,357.0 663.8,356.7 665.0,355.8 C666.2,354.9 667.6,354.1 668.7,353.0 C669.8,351.9 670.4,350.2 671.5,349.3 C672.6,348.4 674.2,348.3 675.3,347.4 C676.4,346.5 676.9,344.8 678.1,343.7 C679.3,342.6 681.2,341.8 682.7,340.9 C684.2,340.0 686.0,339.0 687.4,338.1 C688.8,337.2 689.6,336.2 691.2,335.3 C692.8,334.4 695.2,333.4 696.8,332.5 C698.3,331.6 699.0,330.7 700.5,329.6 C702.0,328.5 704.4,327.3 706.1,325.9 C707.8,324.5 709.2,322.6 710.8,321.2 C712.4,319.8 713.8,318.0 715.5,317.5 C717.2,317.0 719.2,317.2 721.1,318.0 C723.0,318.8 725.2,320.4 726.7,322.2 C728.2,324.0 729.6,326.4 730.4,328.7 C731.2,331.0 731.5,334.5 731.4,336.2 C731.2,337.9 730.6,338.1 729.5,339.0 C728.4,339.9 727.1,340.7 724.8,341.8 C722.5,342.9 718.6,344.1 715.5,345.5 C712.4,346.9 709.2,348.5 706.1,350.2 C703.0,351.9 699.9,353.8 696.8,355.8 C693.7,357.8 690.0,360.5 687.4,362.4 C684.8,364.3 682.8,365.7 680.9,367.1 C679.0,368.5 678.2,369.6 676.2,370.8 C674.2,372.0 671.2,373.9 668.7,374.5 C666.2,375.1 663.4,375.0 661.2,374.5 C659.0,374.0 656.6,372.5 655.6,371.7 C654.6,370.9 655.0,371.0 655.1,369.9Z" fill="#fff" stroke="#111" stroke-width="1.05" stroke-linejoin="round" stroke-linecap="round"/>
<path d="M659.20,361.30 L668.20,369.90 A2.90,2.90 0 0 0 672.20,365.70 L663.20,357.10" fill="none" stroke="#111" stroke-width="1.00" stroke-linejoin="round" stroke-linecap="round"/>
<path d="M685.68,365.18 L678.98,357.58 A2.90,2.90 0 0 0 674.62,361.42 L681.32,369.02" fill="none" stroke="#111" stroke-width="1.00" stroke-linejoin="round" stroke-linecap="round"/>
<path d="M674.85,349.88 L683.65,355.98 A2.90,2.90 0 0 0 686.95,351.22 L678.15,345.12" fill="none" stroke="#111" stroke-width="1.00" stroke-linejoin="round" stroke-linecap="round"/>
<path d="M698.87,355.25 L694.07,346.15 A2.90,2.90 0 0 0 688.93,348.85 L693.73,357.95" fill="none" stroke="#111" stroke-width="1.00" stroke-linejoin="round" stroke-linecap="round"/>
<path d="M689.88,335.84 L696.18,344.24 A2.90,2.90 0 0 0 700.82,340.76 L694.52,332.36" fill="none" stroke="#111" stroke-width="1.00" stroke-linejoin="round" stroke-linecap="round"/>
<path d="M709.30,348.74 L706.60,338.74 A2.90,2.90 0 0 0 701.00,340.26 L703.70,350.26" fill="none" stroke="#111" stroke-width="1.00" stroke-linejoin="round" stroke-linecap="round"/>
<path d="M699.61,330.91 L706.71,337.61 A2.90,2.90 0 0 0 710.69,333.39 L703.59,326.69" fill="none" stroke="#111" stroke-width="1.00" stroke-linejoin="round" stroke-linecap="round"/>
<line x1="188.4" y1="386.3" x2="569.6" y2="386.3" stroke="#111" stroke-width="1.3"/>
<circle cx="178.6" cy="386.3" r="9.2" fill="#fff" stroke="#111" stroke-width="1.7"/>
<text x="178.6" y="391.9" font-size="15.5" font-weight="bold" text-anchor="middle" fill="#111" stroke="#111" stroke-width="0.25">1</text>
<line x1="188.4" y1="435.8" x2="419.7" y2="435.8" stroke="#111" stroke-width="1.3"/>
<circle cx="178.6" cy="435.8" r="9.2" fill="#fff" stroke="#111" stroke-width="1.7"/>
<text x="178.6" y="441.4" font-size="15.5" font-weight="bold" text-anchor="middle" fill="#111" stroke="#111" stroke-width="0.25">2</text>
<line x1="188.4" y1="460.5" x2="420.6" y2="460.5" stroke="#111" stroke-width="1.3"/>
<circle cx="178.6" cy="460.5" r="9.2" fill="#fff" stroke="#111" stroke-width="1.7"/>
<text x="178.6" y="466.1" font-size="15.5" font-weight="bold" text-anchor="middle" fill="#111" stroke="#111" stroke-width="0.25">3</text>
<line x1="188.4" y1="484.6" x2="364.8" y2="484.6" stroke="#111" stroke-width="1.3"/>
<circle cx="178.6" cy="484.6" r="9.2" fill="#fff" stroke="#111" stroke-width="1.7"/>
<text x="178.6" y="490.2" font-size="15.5" font-weight="bold" text-anchor="middle" fill="#111" stroke="#111" stroke-width="0.25">4</text>
<line x1="188.4" y1="556.4" x2="323.8" y2="556.4" stroke="#111" stroke-width="1.3"/>
<circle cx="178.6" cy="556.4" r="9.2" fill="#fff" stroke="#111" stroke-width="1.7"/>
<text x="178.6" y="562.0" font-size="15.5" font-weight="bold" text-anchor="middle" fill="#111" stroke="#111" stroke-width="0.25">5</text>
<line x1="188.4" y1="620.8" x2="273.5" y2="620.8" stroke="#111" stroke-width="1.3"/>
<circle cx="178.6" cy="620.8" r="9.2" fill="#fff" stroke="#111" stroke-width="1.7"/>
<text x="178.6" y="626.4" font-size="15.5" font-weight="bold" text-anchor="middle" fill="#111" stroke="#111" stroke-width="0.25">6</text>
<line x1="731.2" y1="337.7" x2="808.4" y2="337.7" stroke="#111" stroke-width="1.3"/>
<circle cx="818.2" cy="337.7" r="9.2" fill="#fff" stroke="#111" stroke-width="1.7"/>
<text x="818.2" y="343.3" font-size="15.5" font-weight="bold" text-anchor="middle" fill="#111" stroke="#111" stroke-width="0.25">7</text>
<line x1="608.2" y1="486.0" x2="808.4" y2="486.0" stroke="#111" stroke-width="1.3"/>
<circle cx="818.2" cy="486.0" r="9.2" fill="#fff" stroke="#111" stroke-width="1.7"/>
<text x="818.2" y="491.6" font-size="15.5" font-weight="bold" text-anchor="middle" fill="#111" stroke="#111" stroke-width="0.25">8</text>
<line x1="554.8" y1="530.7" x2="808.4" y2="530.7" stroke="#111" stroke-width="1.3"/>
<circle cx="818.2" cy="530.7" r="9.2" fill="#fff" stroke="#111" stroke-width="1.7"/>
<text x="818.2" y="536.3" font-size="15.5" font-weight="bold" text-anchor="middle" fill="#111" stroke="#111" stroke-width="0.25">9</text>
<line x1="546.5" y1="624.0" x2="807.8" y2="624.0" stroke="#111" stroke-width="1.3"/>
<circle cx="817.6" cy="624.0" r="9.2" fill="#fff" stroke="#111" stroke-width="1.7"/>
<text x="817.6" y="629.4" font-size="15" font-weight="bold" text-anchor="middle" fill="#111" stroke="#111" stroke-width="0.5" textLength="13.2" lengthAdjust="spacingAndGlyphs">10</text>
<line x1="536.5" y1="682.0" x2="807.8" y2="682.0" stroke="#111" stroke-width="1.3"/>
<circle cx="817.6" cy="682.0" r="9.2" fill="#fff" stroke="#111" stroke-width="1.7"/>
<text x="817.6" y="687.4" font-size="15" font-weight="bold" text-anchor="middle" fill="#111" stroke="#111" stroke-width="0.5" textLength="13.2" lengthAdjust="spacingAndGlyphs">11</text></svg>
</body></html>
